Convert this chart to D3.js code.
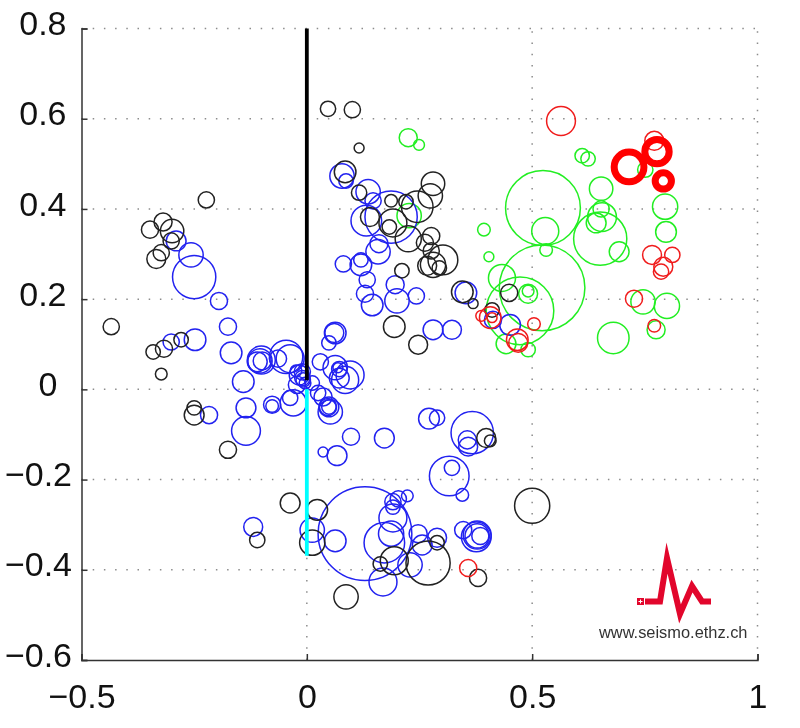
<!DOCTYPE html>
<html>
<head>
<meta charset="utf-8">
<script src="https://cdn.jsdelivr.net/npm/d3@7"></script>
<style>
    html, body { margin: 0; padding: 0; background: #fff; }
    svg { display: block; filter: blur(0.4px); }
    text { font-family: "Liberation Sans", Arial, sans-serif; }
</style>
</head>
<body>
<div id="chart"></div>
<script>
// Axis ticks
var xTicks = [-0.5, 0, 0.5, 1];
var yTicks = [-0.6, -0.4, -0.2, 0, 0.2, 0.4, 0.6, 0.8];

// x, y, size (size = circle radius in x-axis units)
var blackX = [-0.223,-0.319,-0.299,-0.348,-0.301,-0.323,-0.334,-0.434,-0.279,-0.317,-0.341,-0.323,-0.250,-0.250,-0.175,-0.037,0.023,0.012,-0.110,0.087,0.163,0.194,0.269,0.289,0.500,0.380,0.398,0.407,0.047,0.101,0.116,0.085,0.116,0.280,0.274,0.187,0.245,0.191,0.183,0.140,0.225,0.276,0.262,0.276,0.302,0.280,0.267,0.294,0.211,0.194,0.247,0.345,0.369,0.449,0.411,0.220];
var blackY = [0.420,0.371,0.351,0.354,0.329,0.303,0.289,0.139,0.110,0.090,0.083,0.034,-0.057,-0.041,-0.134,-0.252,-0.267,-0.340,-0.334,-0.460,-0.387,-0.380,-0.385,-0.340,-0.258,-0.418,-0.108,-0.114,0.622,0.620,0.535,0.482,0.436,0.456,0.429,0.418,0.405,0.369,0.360,0.382,0.334,0.340,0.325,0.307,0.287,0.276,0.274,0.269,0.263,0.139,0.099,0.216,0.190,0.214,0.176,0.416];
var blackSize = [0.018,0.020,0.026,0.019,0.018,0.018,0.021,0.018,0.016,0.019,0.016,0.013,0.022,0.016,0.019,0.022,0.023,0.028,0.017,0.027,0.016,0.031,0.049,0.016,0.039,0.019,0.021,0.013,0.017,0.018,0.011,0.024,0.017,0.026,0.027,0.014,0.035,0.031,0.016,0.021,0.029,0.019,0.019,0.018,0.033,0.028,0.021,0.016,0.016,0.024,0.021,0.024,0.011,0.019,0.016,0.016];

var greenX = [0.225,0.249,0.227,0.611,0.624,0.751,0.653,0.795,0.797,0.653,0.655,0.642,0.651,0.693,0.524,0.529,0.531,0.393,0.404,0.433,0.522,0.473,0.491,0.491,0.442,0.491,0.746,0.799,0.775,0.680];
var greenY = [0.558,0.542,0.385,0.518,0.511,0.487,0.445,0.405,0.349,0.400,0.382,0.369,0.334,0.305,0.402,0.351,0.309,0.354,0.294,0.247,0.225,0.174,0.212,0.218,0.101,0.088,0.194,0.185,0.132,0.114];
var greenSize = [0.020,0.012,0.027,0.016,0.016,0.017,0.026,0.028,0.023,0.018,0.032,0.022,0.059,0.022,0.083,0.030,0.014,0.014,0.011,0.030,0.095,0.075,0.021,0.013,0.022,0.016,0.027,0.028,0.020,0.035];

var redX = [0.564,0.771,0.766,0.811,0.791,0.786,0.726,0.771,0.504,0.467,0.469,0.407,0.387,0.411,0.358];
var redY = [0.595,0.551,0.298,0.298,0.272,0.261,0.201,0.141,0.145,0.110,0.103,0.159,0.163,0.159,-0.396];
var redSize = [0.032,0.021,0.021,0.017,0.021,0.017,0.019,0.014,0.014,0.024,0.021,0.024,0.012,0.011,0.019];

// the three heavy red rings
var heavyX = [0.715,0.777,0.791];
var heavyY = [0.493,0.527,0.462];
var heavySize = [0.033,0.027,0.018];

var blueX = [-0.290,-0.257,-0.250,-0.195,-0.175,-0.301,-0.248,-0.168,-0.104,-0.101,-0.099,-0.110,-0.046,-0.037,-0.064,-0.141,-0.135,-0.135,-0.217,-0.077,-0.077,-0.030,-0.037,-0.017,-0.010,-0.010,-0.008,-0.022,-0.024,-0.004,0.012,0.025,0.036,0.030,0.063,0.072,0.069,0.096,0.085,0.072,0.047,0.049,0.049,0.052,0.098,0.172,0.036,0.067,0.078,0.087,0.136,0.147,0.187,0.132,0.160,0.158,0.081,0.120,0.120,0.134,0.129,0.145,0.196,0.200,0.243,0.061,0.063,0.049,0.280,0.322,0.353,0.413,0.451,0.012,-0.119,0.063,0.129,0.191,0.187,0.172,0.169,0.229,0.191,0.191,0.203,0.223,0.247,0.256,0.289,0.347,0.378,0.376,0.385,0.378,0.316,0.322,0.345,0.367,0.356,0.358,0.271,0.289];
var blueY = [0.329,0.298,0.249,0.196,0.139,0.105,0.110,0.081,0.063,0.065,0.063,0.061,0.072,0.068,0.068,0.017,-0.041,-0.092,-0.057,-0.034,-0.037,-0.030,-0.019,0.032,0.025,0.039,0.021,0.010,0.041,0.014,0.014,-0.008,-0.017,0.061,0.048,0.045,0.048,0.032,0.021,0.025,-0.039,-0.039,-0.039,-0.050,-0.105,-0.108,-0.139,-0.147,0.473,0.462,0.438,0.418,0.382,0.374,0.323,0.305,0.278,0.276,0.287,0.243,0.212,0.187,0.232,0.196,0.207,0.125,0.125,0.103,0.132,0.132,0.214,0.154,0.143,-0.312,-0.305,-0.336,-0.320,-0.285,-0.320,-0.340,-0.427,-0.389,-0.249,-0.261,-0.243,-0.236,-0.320,-0.345,-0.329,-0.312,-0.323,-0.327,-0.325,-0.325,-0.192,-0.174,-0.234,-0.096,-0.112,-0.127,-0.065,-0.063];
var blueSize = [0.022,0.027,0.048,0.019,0.019,0.018,0.024,0.024,0.027,0.031,0.020,0.022,0.037,0.031,0.019,0.024,0.022,0.032,0.019,0.019,0.014,0.029,0.017,0.022,0.017,0.018,0.016,0.019,0.013,0.013,0.016,0.017,0.020,0.018,0.027,0.017,0.011,0.031,0.030,0.022,0.019,0.016,0.022,0.027,0.019,0.022,0.011,0.022,0.027,0.016,0.027,0.018,0.058,0.034,0.020,0.027,0.018,0.024,0.016,0.018,0.019,0.024,0.020,0.027,0.018,0.021,0.024,0.016,0.022,0.021,0.024,0.019,0.023,0.027,0.021,0.024,0.104,0.031,0.028,0.045,0.031,0.027,0.018,0.016,0.018,0.013,0.020,0.022,0.021,0.019,0.031,0.033,0.019,0.027,0.044,0.017,0.014,0.047,0.020,0.021,0.023,0.017];

// Vertical stems on the x = 0 line
var stemBlack = [0.02, 0.8];
var stemCyan = [0, -0.369];

var width = 800, height = 728;

var x = d3.scaleLinear().domain([-0.5, 1]).range([81.5, 757.5]);
var y = d3.scaleLinear().domain([-0.6, 0.8]).range([660, 28.5]);

var svg = d3.select("#chart").append("svg")
    .attr("width", width)
    .attr("height", height);

// Dotted grid
var grid = svg.append("g")
    .attr("stroke", "#8c8c8c")
    .attr("stroke-width", 1.5)
    .attr("stroke-dasharray", "1.5 9.7");

grid.selectAll("line.h")
    .data(yTicks.filter(function(d) { return d > -0.6; }))
    .enter().append("line").attr("class", "h")
    .attr("x1", x(-0.5)).attr("x2", x(1))
    .attr("y1", function(d) { return y(d); })
    .attr("y2", function(d) { return y(d); });

grid.selectAll("line.v")
    .data(xTicks.filter(function(d) { return d > -0.5; }))
    .enter().append("line").attr("class", "v")
    .attr("y1", y(-0.6)).attr("y2", y(0.8))
    .attr("x1", function(d) { return x(d); })
    .attr("x2", function(d) { return x(d); });

function drawRings(xs, ys, sizes, colour, lineWidth) {
    svg.append("g")
        .attr("fill", "none")
        .attr("stroke", colour)
        .attr("stroke-width", lineWidth)
        .selectAll("circle")
        .data(d3.range(xs.length))
        .enter().append("circle")
        .attr("cx", function(i) { return x(xs[i]); })
        .attr("cy", function(i) { return y(ys[i]); })
        .attr("r", function(i) { return x(sizes[i]) - x(0); });
}

drawRings(greenX, greenY, greenSize, "#22ee22", 1.5);
drawRings(blueX, blueY, blueSize, "#2222f0", 1.5);
drawRings(blackX, blackY, blackSize, "#222222", 1.5);
drawRings(redX, redY, redSize, "#f01c1c", 1.5);
drawRings(heavyX, heavyY, heavySize, "#ff0000", 7);

// Stems
svg.append("line")
    .attr("x1", x(0)).attr("x2", x(0))
    .attr("y1", y(stemCyan[0])).attr("y2", y(stemCyan[1]))
    .attr("stroke", "#00ffff").attr("stroke-width", 3.8);
svg.append("line")
    .attr("x1", x(0)).attr("x2", x(0))
    .attr("y1", y(stemBlack[0])).attr("y2", y(stemBlack[1]))
    .attr("stroke", "#000").attr("stroke-width", 3.8);

// Axes, ticks point inwards like the original plot
var xAxis = d3.axisBottom(x).tickValues(xTicks).tickSize(-6).tickPadding(24)
    .tickFormat(function(d) { return String(d).replace("-", "\u2212"); });
var yAxis = d3.axisLeft(y).tickValues(yTicks).tickSize(-6).tickPadding(15)
    .tickFormat(function(d) { return String(d).replace("-", "\u2212"); });

var gx = svg.append("g").attr("transform", "translate(0," + y(-0.6) + ")").call(xAxis);
var gy = svg.append("g").attr("transform", "translate(" + x(-0.5) + ",0)").call(yAxis);

[gx, gy].forEach(function(g) {
    g.selectAll(".domain").attr("stroke", "#333").attr("stroke-width", 1.5);
    g.selectAll(".tick line").attr("stroke", "#333").attr("stroke-width", 1.5);
    g.selectAll("text")
        .attr("font-size", 34)
        .attr("fill", "#111")
        .style("font-family", '"Liberation Sans", Arial, sans-serif');
});

// y labels sit a bit above their ticks, and their right edges are not aligned in the original
gy.selectAll("text")
    .attr("y", -4.7)
    .attr("x", function(d) {
        if (d < 0) return -9.5;
        if (d === 0) return -24;
        return -15;
    });

// Logo in the lower right corner
var logo = svg.append("g");
logo.append("path")
    .attr("d", "M645 601.5 H660 L667 558 L680 614 L692 586 L702 601.5 H711")
    .attr("fill", "none")
    .attr("stroke", "#e2062c")
    .attr("stroke-width", 6)
    .attr("stroke-linejoin", "miter")
    .attr("stroke-miterlimit", 12);
logo.append("rect").attr("x", 637).attr("y", 598).attr("width", 7).attr("height", 7).attr("fill", "#e2062c");
logo.append("path").attr("d", "M638.5 601.5 H642.5 M640.5 599.5 V603.5").attr("stroke", "#fff").attr("stroke-width", 1);
logo.append("text")
    .attr("x", 599).attr("y", 638)
    .attr("font-size", 16.4)
    .attr("fill", "#333")
    .text("www.seismo.ethz.ch");
</script>
</body>
</html>
